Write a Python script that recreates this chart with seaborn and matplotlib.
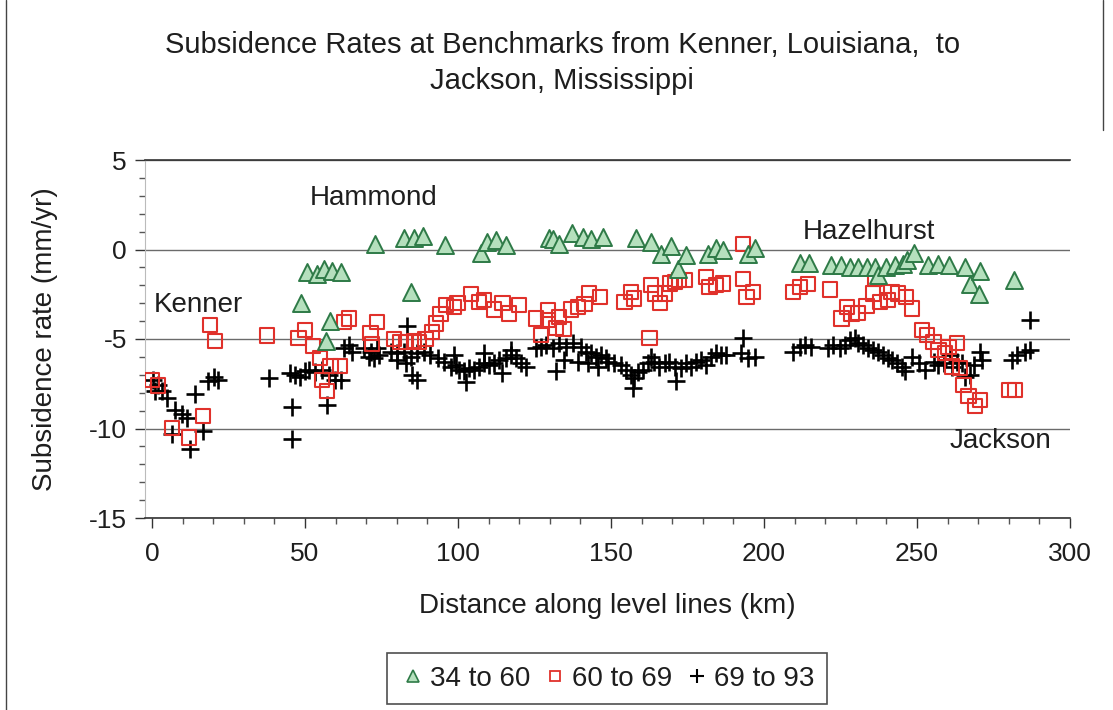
import matplotlib
matplotlib.use("Agg")
import matplotlib.pyplot as plt
import pandas as pd
import seaborn as sns
from matplotlib.lines import Line2D
from matplotlib.ticker import MultipleLocator

# ---------------- data ----------------
tri_km = [48.7, 50.7, 54.0, 56.1, 56.7, 58.0, 58.9, 61.6, 73.0, 82.3, 84.5, 85.6, 88.7, 95.7,
          107.4, 109.6, 112.3, 115.6, 129.8, 130.9, 133.1, 137.1, 140.7, 143.5, 147.3, 158.2,
          163.1, 166.4, 169.7, 171.9, 174.6, 181.7, 184.4, 186.6, 194.8, 197.0, 211.7, 214.6,
          222.0, 225.3, 228.0, 230.8, 233.5, 236.2, 237.3, 240.0, 242.8, 245.5, 246.6, 249.0,
          253.7, 257.0, 260.3, 265.7, 267.4, 270.1, 270.6, 281.6]
tri_rate = [-3.0, -1.26, -1.35, -1.07, -5.1, -4.0, -1.2, -1.26, 0.32, 0.65, -2.37, 0.65, 0.78, 0.25,
            -0.2, 0.4, 0.54, 0.26, 0.65, 0.6, 0.31, 0.9, 0.72, 0.59, 0.72, 0.65,
            0.4, -0.24, 0.17, -1.07, -0.33, -0.24, 0.09, -0.05, -0.24, 0.1, -0.76, -0.76,
            -0.89, -0.89, -0.98, -1.0, -0.98, -0.98, -1.44, -0.98, -0.89, -0.8, -0.61, -0.2,
            -0.89, -0.83, -0.89, -0.98, -1.9, -2.46, -1.2, -1.72]

sq_km = [0.0, 2.0, 6.5, 12.2, 16.6, 19.0, 20.6, 37.6, 47.9, 50.1,
         52.6, 55.0, 55.6, 57.2, 58.3, 61.4, 62.7, 64.3, 71.4, 72.0, 73.4,
         79.0, 81.2, 82.9, 85.6, 87.2, 89.4, 91.6, 92.7, 94.3, 96.0,
         98.7, 99.8, 104.2, 106.9, 108.5, 111.8, 114.5, 116.7, 120.0,
         125.4, 127.1, 129.3, 129.3, 132.0, 133.1, 134.5, 136.9, 139.1, 141.3, 142.9, 146.5,
         154.4, 156.6, 157.6, 162.6, 163.0, 164.3, 166.0, 167.6, 169.3, 170.9, 172.2, 174.2,
         181.1, 182.2, 184.4, 186.6, 193.2, 193.2, 194.3, 196.4, 209.5, 211.7, 214.4, 221.5,
         225.3, 227.0, 228.6, 230.8, 233.5, 235.7, 236.2, 237.9, 240.6, 241.7, 243.9, 246.3, 248.3,
         251.6, 253.2, 255.4, 257.0, 259.2, 260.3, 261.4, 263.0, 264.1,
         265.2, 266.8, 269.0, 270.6, 280.0, 282.1]
sq_rate = [-7.3, -7.6, -9.96, -10.5, -9.3, -4.2, -5.1, -4.8, -4.96, -4.5,
           -5.4, -6.07, -7.3, -7.9, -6.5, -6.5, -4.04, -3.85, -4.65, -5.3, -4.04,
           -5.0, -5.15, -5.15, -5.1, -5.15, -5.0, -4.6, -4.13, -3.6, -3.1,
           -3.2, -3.0, -2.5, -2.93, -2.83, -3.35, -3.0, -3.57, -3.1,
           -3.85, -4.78, -3.39, -3.94, -4.4, -3.76, -4.46, -3.35, -3.2, -3.06, -2.46, -2.65,
           -2.93, -2.37, -2.74, -4.96, -2.0, -2.46, -3.0, -2.46, -1.9, -1.8, -1.72, -1.72,
           -1.54, -2.1, -2.0, -1.9, 0.31, -1.63, -2.65, -2.37, -2.37, -2.1, -1.94, -2.24,
           -3.85, -3.2, -3.57, -3.54, -3.17, -2.46, -1.63, -2.93, -2.83, -2.37, -2.46, -2.65, -3.3,
           -4.5, -4.78, -5.15, -5.6, -5.8, -5.43, -6.54, -5.24, -6.63,
           -7.56, -8.2, -8.76, -8.4, -7.87, -7.87]

cr_km = [0.4, 1.0, 2.1, 3.2, 4.8, 6.5, 7.5, 9.7, 11.4, 12.4, 14.1, 16.8, 18.4, 20.1, 21.7,
         38.1, 45.2, 45.8, 45.8, 46.8, 48.5, 50.1,
         51.2, 53.4, 55.6, 57.7, 59.9, 61.6, 57.2, 62.7, 64.3, 65.4, 69.2, 71.4, 73.6, 74.1,
         70.8, 72.5, 83.4, 78.0, 80.2, 82.3, 84.5, 86.7, 88.9, 91.0, 93.3, 95.4, 97.6, 99.2,
         100.3, 80.2, 82.9, 85.0, 86.7, 98.7,
         102.0, 103.6, 105.3, 106.9, 108.5, 110.2, 111.8, 113.4, 115.6, 117.3, 118.9, 120.6,
         122.3, 102.5, 114.5, 108.5, 117.3,
         125.4, 127.1, 128.7, 130.9, 133.1, 135.3, 137.5, 140.2, 141.8, 143.5, 145.1, 146.7,
         148.4, 132.0, 134.7, 139.1, 142.4, 145.7,
         148.9, 151.1, 153.3, 154.9, 156.5, 157.6, 157.1, 158.7, 160.4, 162.0, 163.1, 164.2,
         165.8, 167.5, 169.1, 170.8, 171.3, 172.9, 174.6, 176.2, 177.9, 179.5, 181.1, 182.8,
         184.4, 186.1, 187.7, 193.2, 192.6, 194.8, 197.0,
         209.5, 211.7, 213.3, 215.5, 221.0, 222.6, 224.8, 226.4, 228.1, 229.7, 230.8, 232.5,
         234.1, 235.7, 237.4, 239.0, 240.6, 241.7, 243.4, 245.0, 246.1, 248.3, 250.5,
         252.6, 255.4, 257.0, 258.7, 260.8, 261.4, 263.0, 264.6, 265.7, 267.4, 268.5, 270.7,
         271.2, 281.0, 282.7, 285.4, 287.0, 287.0]
cr_rate = [-7.28, -7.93, -7.56, -7.93, -8.3, -10.33, -8.94, -9.2, -9.4, -11.17, -8.1, -10.15,
           -7.37, -7.1, -7.28,
           -7.19, -6.9, -8.8, -10.6, -7.0, -7.1, -6.8,
           -6.72, -6.87, -6.72, -7.0, -7.28, -7.28, -8.67, -5.52, -5.33, -5.7, -5.5, -5.7, -5.5, -5.9,
           -6.0, -6.07, -4.3, -5.7, -5.8, -5.7, -6.0, -5.8, -5.7, -5.9, -6.07, -6.26, -6.54, -6.44,
           -6.72, -6.17, -6.35, -7.0, -7.28, -5.9,
           -6.8, -6.63, -6.72, -6.54, -6.35, -6.44, -6.35, -6.17, -6.07, -5.9, -6.07, -6.35,
           -6.54, -7.4, -6.9, -5.8, -5.6,
           -5.5, -5.43, -5.33, -5.5, -5.24, -5.43, -5.24, -5.43, -5.7, -5.8, -6.0, -5.9,
           -6.07, -6.8, -6.17, -6.26, -6.35, -6.54,
           -6.26, -6.35, -6.44, -6.72, -7.0, -7.18, -7.74, -6.82, -6.72, -6.35, -5.98, -6.26,
           -6.54, -6.35, -6.26, -6.54, -7.37, -6.63, -6.35, -6.54, -6.26, -6.17, -6.44, -5.98,
           -5.8, -5.9, -5.9, -4.96, -5.8, -6.07, -5.98,
           -5.7, -5.43, -5.33, -5.43, -5.52, -5.33, -5.52, -5.33, -5.06, -4.96, -5.24, -5.33,
           -5.52, -5.6, -5.7, -5.9, -6.07, -6.17, -6.35, -6.54, -6.8, -5.98, -6.35,
           -6.72, -6.26, -6.44, -6.35, -5.9, -6.54, -6.26, -6.35, -7.1, -7.0, -6.44, -5.7,
           -6.17, -6.17, -5.9, -5.7, -5.6, -3.94]

series_labels = ["34 to 60", "60 to 69", "69 to 93"]
town_names = ["Hammond", "Hazelhurst", "Kenner", "Jackson"]
town_km = [51.5, 212.5, 0.5, 260.5]
town_rate = [2.85, 0.95, -3.1, -10.7]
x_ticks = [0, 50, 100, 150, 200, 250, 300]
y_ticks = [-15, -10, -5, 0, 5]

# ---------------- style ----------------
sns.set_theme(style="white")
plt.rcParams['font.family'] = ['Liberation Sans', 'DejaVu Sans']
plt.rcParams['axes.unicode_minus'] = False

TRI_FACE, TRI_EDGE = "#b5e0bd", "#2e7a47"
SQ_EDGE = "#e0312b"
TXT = "#1e1e1e"

fig = plt.figure(figsize=(11.13, 7.10), dpi=100)
ax = fig.add_axes([145 / 1113, 1 - 518 / 710, 925 / 1113, 358 / 710])

d_tri = pd.DataFrame({"km": tri_km, "rate": tri_rate})
d_sq = pd.DataFrame({"km": sq_km, "rate": sq_rate})
d_cr = pd.DataFrame({"km": cr_km, "rate": cr_rate})

sns.scatterplot(data=d_cr, x="km", y="rate", marker="+", s=170, color="black",
                linewidth=1.9, ax=ax, zorder=3, legend=False)
sns.scatterplot(data=d_sq, x="km", y="rate", marker="s", s=105, facecolor="none",
                edgecolor=SQ_EDGE, linewidth=1.5, ax=ax, zorder=4, legend=False)
sns.scatterplot(data=d_tri, x="km", y="rate", marker="^", s=150, color=TRI_FACE,
                edgecolor=TRI_EDGE, linewidth=1.4, ax=ax, zorder=5, legend=False)

ax.set_xlim(-2.3, 300)
ax.set_ylim(-15, 5)
ax.set_xticks(x_ticks)
ax.set_yticks(y_ticks)
ax.xaxis.set_minor_locator(MultipleLocator(10))
ax.yaxis.set_minor_locator(MultipleLocator(1))
ax.tick_params(axis="both", which="major", labelsize=19, direction="out", length=7,
               width=1, color="#333333", labelcolor=TXT)
ax.tick_params(axis="x", which="major", pad=10)
ax.tick_params(axis="y", which="major", pad=6)
ax.tick_params(axis="both", which="minor", direction="out", length=4, width=1, color="#555555")
ax.tick_params(axis="x", which="both", bottom=True)
ax.tick_params(axis="y", which="both", left=True)

ax.yaxis.grid(True, which="major", color="#6b6b6b", linewidth=1.0)
ax.xaxis.grid(False)
ax.set_axisbelow(True)

for side in ["top", "bottom"]:
    ax.spines[side].set_visible(True)
    ax.spines[side].set_color("#333333")
    ax.spines[side].set_linewidth(1.2)
ax.spines["left"].set_color("#bbbbbb")
ax.spines["left"].set_linewidth(0.8)
ax.spines["right"].set_visible(False)

ax.set_xlabel("Distance along level lines (km)", fontsize=20, labelpad=20, color=TXT)
ax.set_ylabel("Subsidence rate (mm/yr)", fontsize=20, labelpad=22, color=TXT)

for name, kx, ky in zip(town_names, town_km, town_rate):
    ax.text(kx, ky, name, fontsize=20, ha="left", va="center", color=TXT, zorder=6)

fig.text(0.505, 0.936, "Subsidence Rates at Benchmarks from Kenner, Louisiana,  to",
         ha="center", va="center", fontsize=21, color=TXT)
fig.text(0.505, 0.886, "Jackson, Mississippi", ha="center", va="center", fontsize=21,
         color=TXT)

handles = [
    Line2D([], [], linestyle="none", marker="^", markersize=8, markerfacecolor=TRI_FACE,
           markeredgecolor=TRI_EDGE, markeredgewidth=1.2),
    Line2D([], [], linestyle="none", marker="s", markersize=7, markerfacecolor="none",
           markeredgecolor=SQ_EDGE, markeredgewidth=1.3),
    Line2D([], [], linestyle="none", marker="+", markersize=10, color="black",
           markeredgewidth=1.5),
]
leg = fig.legend(handles, series_labels, loc="center", bbox_to_anchor=(0.545, 0.044), ncol=3,
                 frameon=True, fancybox=False, edgecolor="#222222", fontsize=20,
                 handletextpad=0.1, columnspacing=0.4, handlelength=1.0, borderpad=0.45)
leg.get_frame().set_linewidth(1.2)
for t in leg.get_texts():
    t.set_color(TXT)

# scanned outer frame remnants
fig.add_artist(Line2D([6 / 1113, 6 / 1113], [0, 1], color="#444444", lw=1))
fig.add_artist(Line2D([1103 / 1113, 1103 / 1113], [1 - 130 / 710, 1], color="#444444", lw=1))

fig.savefig("out.png", dpi=100)
